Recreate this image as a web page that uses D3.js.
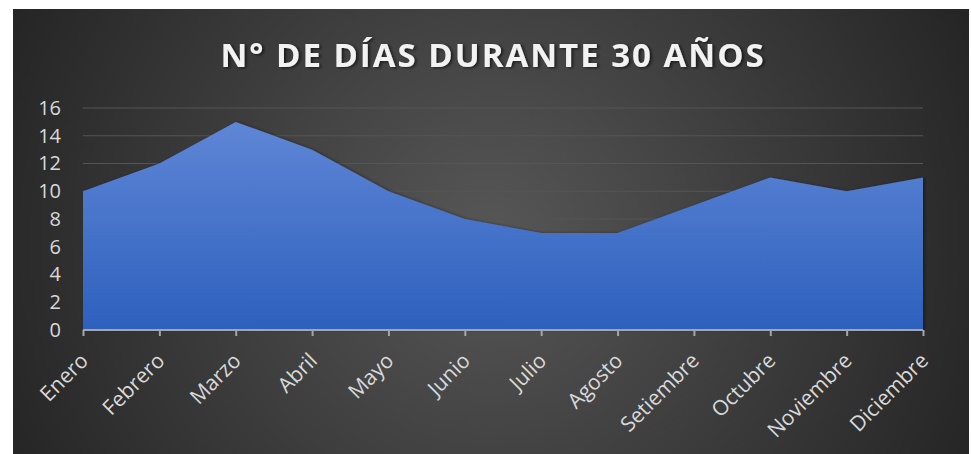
<!DOCTYPE html>
<html>
<head>
<meta charset="utf-8">
<script src="https://cdn.jsdelivr.net/npm/d3@7"></script>
<style>
  body { margin: 0; background: #fff; }
  text { font-family: "Open Sans", sans-serif; }
</style>
</head>
<body>
<div id="chart-area"></div>
<script>
// data
var months = ["Enero", "Febrero", "Marzo", "Abril", "Mayo", "Junio",
  "Julio", "Agosto", "Setiembre", "Octubre", "Noviembre", "Diciembre"];
var days = [10, 12, 15, 13, 10, 8, 7, 7, 9, 11, 10, 11];
var yTicks = [0, 2, 4, 6, 8, 10, 12, 14, 16];

var W = 971, H = 454;
var margin = { left: 83, right: 48, top: 108, bottom: 124 };
var width = W - margin.left - margin.right;
var height = H - margin.top - margin.bottom;

var svg = d3.select("#chart-area").append("svg")
  .attr("width", W)
  .attr("height", H);

var defs = svg.append("defs");

var bg = defs.append("radialGradient")
  .attr("id", "bg")
  .attr("gradientUnits", "userSpaceOnUse")
  .attr("cx", 490).attr("cy", 240).attr("r", 560);
bg.append("stop").attr("offset", "0").attr("stop-color", "#575757");
bg.append("stop").attr("offset", "1").attr("stop-color", "#222");

var fill = defs.append("linearGradient")
  .attr("id", "areaFill")
  .attr("x1", 0).attr("y1", 0).attr("x2", 0).attr("y2", 1);
fill.append("stop").attr("offset", "0").attr("stop-color", "#5f86d6");
fill.append("stop").attr("offset", "1").attr("stop-color", "#2d60bd");

var shadow = defs.append("filter").attr("id", "shadow")
  .attr("x", "-5%").attr("y", "-5%").attr("width", "110%").attr("height", "110%");
shadow.append("feDropShadow")
  .attr("dx", 2).attr("dy", 1).attr("stdDeviation", 1.5)
  .attr("flood-color", "#000").attr("flood-opacity", 0.6);

var areaShadow = defs.append("filter").attr("id", "areaShadow")
  .attr("x", "-5%").attr("y", "-5%").attr("width", "110%").attr("height", "110%");
areaShadow.append("feDropShadow")
  .attr("dx", 2).attr("dy", 0).attr("stdDeviation", 1.5)
  .attr("flood-color", "#000").attr("flood-opacity", 0.35);

svg.append("rect")
  .attr("x", 13).attr("y", 9)
  .attr("width", W - 15).attr("height", H - 9)
  .attr("fill", "url(#bg)");

// title
svg.append("text")
  .attr("x", 493)
  .attr("y", 67)
  .attr("text-anchor", "middle")
  .attr("font-size", "33px")
  .attr("font-weight", "bold")
  .attr("letter-spacing", "2px")
  .attr("fill", "#f2f2f2")
  .attr("filter", "url(#shadow)")
  .text("N° DE DÍAS DURANTE 30 AÑOS");

var g = svg.append("g")
  .attr("transform", "translate(" + margin.left + "," + margin.top + ")");

// scales
var x = d3.scalePoint()
  .domain(months)
  .range([0, width]);

var y = d3.scaleLinear()
  .domain([0, 16])
  .range([height, 0]);

// gridlines
g.append("g")
  .selectAll("line")
  .data(yTicks.slice(1))
  .enter().append("line")
    .attr("x1", 0).attr("x2", width)
    .attr("y1", function(d) { return y(d); })
    .attr("y2", function(d) { return y(d); })
    .attr("stroke", "#555")
    .attr("stroke-width", 1);

// area
var area = d3.area()
  .x(function(d, i) { return x(months[i]); })
  .y0(height)
  .y1(function(d) { return y(d); });

g.append("path")
  .datum(days)
  .attr("d", area)
  .attr("fill", "url(#areaFill)")
  .attr("filter", "url(#areaShadow)");

// y axis
var yAxis = g.append("g")
  .call(d3.axisLeft(y).tickValues(yTicks).tickSize(0).tickPadding(22));
yAxis.select(".domain").remove();
yAxis.selectAll("text")
  .attr("font-size", "20px")
  .attr("fill", "#d9d9d9");

// x axis
var xAxis = g.append("g")
  .attr("transform", "translate(0," + height + ")")
  .call(d3.axisBottom(x).tickSize(6));
xAxis.select(".domain")
  .attr("stroke", "#a6a6a6")
  .attr("stroke-width", 2)
  .attr("d", "M0,0H" + width);
xAxis.selectAll(".tick line")
  .attr("stroke", "#a6a6a6")
  .attr("stroke-width", 2);
xAxis.selectAll("text")
  .attr("font-size", "21px")
  .attr("fill", "#d9d9d9")
  .attr("text-anchor", "end")
  .attr("x", 0)
  .attr("y", 0)
  .attr("dy", "0")
  .attr("transform", "translate(6,32) rotate(-45)");
</script>
</body>
</html>
